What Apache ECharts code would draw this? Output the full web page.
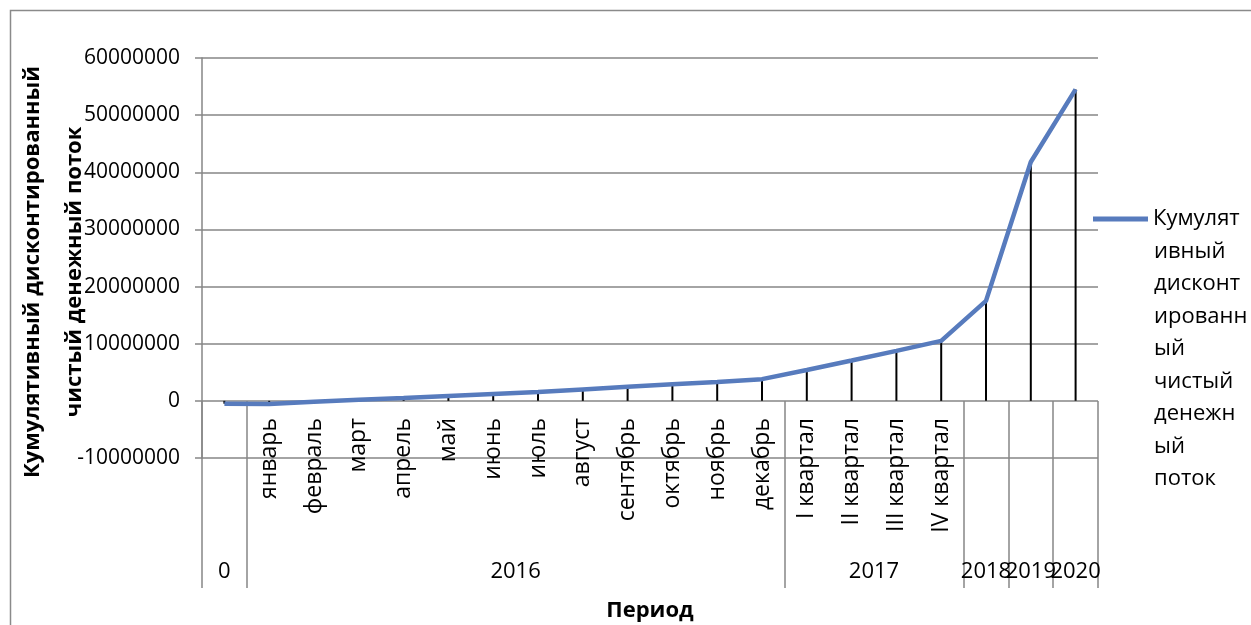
<!DOCTYPE html>
<html><head><meta charset="utf-8">
<script src="https://cdn.jsdelivr.net/npm/echarts@6/dist/echarts.min.js"></script>
<style>html,body{margin:0;padding:0;background:#fff}#c{width:1251px;height:625px}</style>
</head><body><div id="c"></div>
<script>
// ---- data ----
const periods = ["0","январь","февраль","март","апрель","май","июнь","июль","август","сентябрь","октябрь","ноябрь","декабрь","I квартал","II квартал","III квартал","IV квартал","2018","2019","2020"];
const groupLabels = ["0","2016","2017","2018","2019","2020"];
const groupSizes = [1,12,4,1,1,1];
const cumulativeDNCF = [-500000,-550000,-150000,200000,500000,850000,1200000,1550000,2000000,2450000,2900000,3300000,3800000,5400000,7050000,8750000,10500000,17500000,41800000,54500000];
const seriesName = "Кумулятивный дисконтированный чистый денежный поток";
const legendLines = ["Кумулят","ивный","дисконт","ированн","ый","чистый","денежн","ый","поток"];
const yTitle = "Кумулятивный дисконтированный\nчистый денежный поток";
const xTitle = "Период";
const yMin = -10000000, yMax = 60000000, yStep = 10000000;

// ---- derived ----
const boundaries = [0];
const groupCenters = [];
const isSubLevel = [];
groupSizes.forEach((s) => {
  const start = boundaries[boundaries.length - 1];
  groupCenters.push(start + s / 2);
  boundaries.push(start + s);
  for (let k = 0; k < s; k++) isSubLevel.push(s > 1);
});
const centerLabel = {};
groupCenters.forEach((c, i) => centerLabel[c] = groupLabels[i]);
// trailing empty label at the axis end so the last real label is not treated as the "max" label
const labelValues = groupCenters.concat([periods.length]);

const FONT = '"Open Sans", "Noto Sans", sans-serif';
const GRID = '#868686';

const chart = echarts.init(document.getElementById('c'), null, {renderer: 'canvas'});
chart.setOption({
  animation: false,
  backgroundColor: '#fff',
  textStyle: {fontFamily: FONT},
  grid: {left: 202, right: 153, top: 58, bottom: 167, containLabel: false, outerBoundsMode: 'none'},
  legend: {
    data: [seriesName],
    left: 1093, top: 208, padding: 0,
    itemWidth: 55, itemHeight: 5, itemGap: 0,
    icon: 'path://M0,0L55,0L55,5L0,5Z',
    formatter: () => legendLines[0],
    textStyle: {fontFamily: FONT, fontSize: 22, color: '#000'}
  },
  xAxis: [{
    type: 'category',
    data: periods,
    boundaryGap: true,
    axisLine: {show: false, onZero: false},
    axisTick: {show: false},
    splitLine: {show: false},
    axisLabel: {
      interval: 0, rotate: 90, margin: -40,
      fontFamily: FONT, fontSize: 23, color: '#000',
      formatter: (v, i) => isSubLevel[i] ? v : ''
    }
  }, {
    // group separators (second level of the category axis)
    type: 'value',
    min: 0, max: periods.length,
    position: 'bottom',
    offset: 130,
    name: xTitle,
    nameLocation: 'middle',
    nameGap: 12,
    nameTextStyle: {fontFamily: FONT, fontSize: 22, fontWeight: 'bold', color: '#000', verticalAlign: 'top'},
    axisLine: {show: false, onZero: false},
    splitLine: {show: false},
    axisTick: {show: true, inside: true, length: 187, customValues: boundaries, lineStyle: {color: GRID, width: 1.5}},
    axisLabel: {show: false}
  }, {
    // group labels (second level of the category axis)
    type: 'value',
    min: 0, max: periods.length,
    position: 'bottom',
    offset: 130,
    axisLine: {show: false, onZero: false},
    splitLine: {show: false},
    axisTick: {show: false},
    axisLabel: {
      show: true, inside: true, margin: 5, hideOverlap: false,
      showMinLabel: true, showMaxLabel: false,
      customValues: labelValues,
      fontFamily: FONT, fontSize: 22, color: '#000',
      formatter: v => centerLabel[v] !== undefined ? centerLabel[v] : ''
    }
  }],
  yAxis: {
    type: 'value',
    min: yMin, max: yMax, interval: yStep,
    axisLine: {show: true, onZero: false, lineStyle: {color: GRID, width: 1.5}},
    axisTick: {show: true, length: 7, lineStyle: {color: GRID, width: 1.5}},
    axisLabel: {margin: 22, fontFamily: FONT, fontSize: 21, color: '#000', formatter: v => String(v)},
    splitLine: {show: true, lineStyle: {color: GRID, width: 1.5}}
  },
  series: [{
    name: 'dropLines',
    type: 'bar',
    data: cumulativeDNCF,
    barWidth: 2,
    itemStyle: {color: '#000'},
    silent: true,
    z: 1
  }, {
    name: seriesName,
    type: 'line',
    data: cumulativeDNCF,
    symbol: 'none',
    showSymbol: false,
    lineStyle: {color: '#577BBD', width: 4.5},
    itemStyle: {color: '#577BBD'},
    z: 3
  }],
  graphic: [{
    type: 'rect',
    shape: {x: 10.5, y: 10.5, width: 1400, height: 800},
    style: {fill: 'none', stroke: '#8a8a8a', lineWidth: 1.5},
    silent: true
  }, {
    type: 'text',
    x: 54, y: 272, rotation: Math.PI / 2,
    style: {
      text: yTitle,
      font: 'bold 22px ' + FONT,
      lineHeight: 42,
      align: 'center', verticalAlign: 'middle',
      fill: '#000'
    }
  }, {
    type: 'text',
    left: 1154, top: 235,
    style: {
      text: legendLines.slice(1).join('\n'),
      font: '22px ' + FONT,
      lineHeight: 32.5,
      fill: '#000'
    }
  }]
});
</script></body></html>
